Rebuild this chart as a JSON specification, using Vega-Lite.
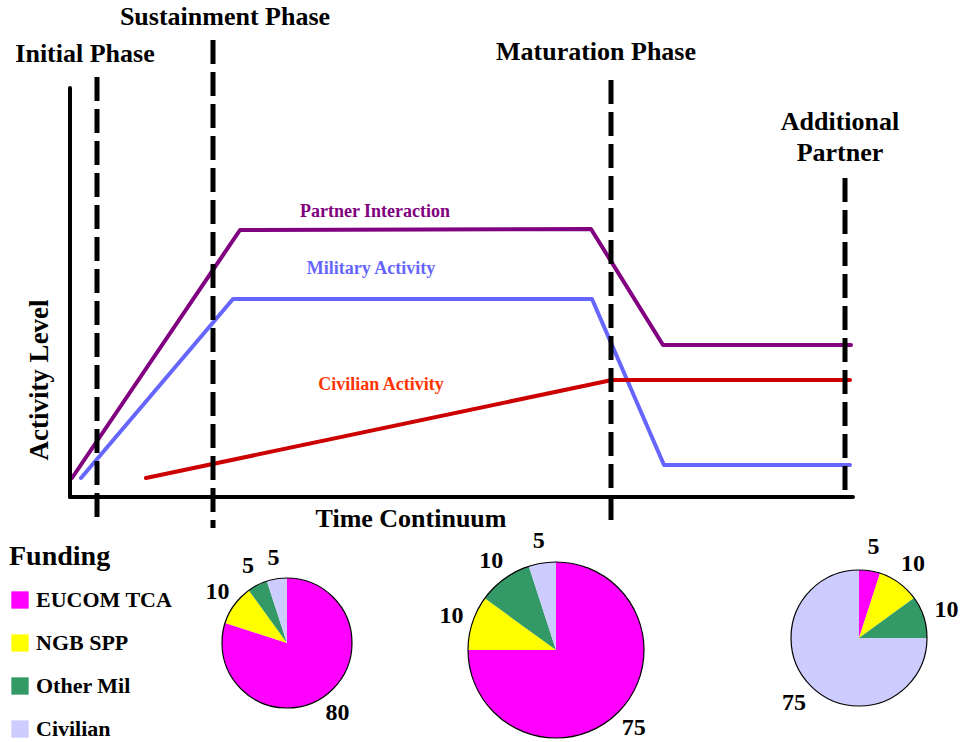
{
  "$schema": "https://vega.github.io/schema/vega-lite/v6.json",
  "width": 964,
  "height": 742,
  "autosize": {"type": "none"},
  "padding": 0,
  "background": "white",
  "config": {
    "view": {"stroke": null},
    "text": {"font": "Liberation Serif", "fontWeight": "bold"}
  },
  "datasets": {
    "activity": [
      {"series": "Partner Interaction", "t": 0.2, "level": 1.9},
      {"series": "Partner Interaction", "t": 17.0, "level": 26.7},
      {"series": "Partner Interaction", "t": 52.1, "level": 26.8},
      {"series": "Partner Interaction", "t": 59.3, "level": 15.2},
      {"series": "Partner Interaction", "t": 78.1, "level": 15.2},
      {"series": "Military Activity", "t": 1.1, "level": 1.9},
      {"series": "Military Activity", "t": 16.3, "level": 19.8},
      {"series": "Military Activity", "t": 52.2, "level": 19.8},
      {"series": "Military Activity", "t": 59.4, "level": 3.2},
      {"series": "Military Activity", "t": 78.0, "level": 3.2},
      {"series": "Civilian Activity", "t": 7.6, "level": 1.9},
      {"series": "Civilian Activity", "t": 54.2, "level": 11.7},
      {"series": "Civilian Activity", "t": 78.0, "level": 11.7}
    ],
    "axes": [
      {"axis": "Activity Level", "t": 0, "t2": 0, "level": 0, "level2": 40.9},
      {"axis": "Time Continuum", "t": 0, "t2": 78.3, "level": 0, "level2": 0}
    ],
    "phases": [
      {"phase": "Initial Phase", "t": 2.7, "top": 42.0, "bottom": -2.8},
      {"phase": "Sustainment Phase", "t": 14.3, "top": 45.7, "bottom": -3.1},
      {"phase": "Maturation Phase", "t": 54.1, "top": 41.7, "bottom": -3.1},
      {"phase": "Additional Partner", "t": 77.5, "top": 31.9, "bottom": 0}
    ],
    "lineLabels": [
      {"series": "Partner Interaction", "t": 30.5, "level": 28.5},
      {"series": "Military Activity", "t": 30.1, "level": 22.8},
      {"series": "Civilian Activity", "t": 31.1, "level": 11.2}
    ],
    "titles": [
      {"text": "Initial Phase", "t": 1.5, "level": 44.3},
      {"text": "Sustainment Phase", "t": 15.5, "level": 48.0},
      {"text": "Maturation Phase", "t": 52.6, "level": 44.5},
      {"text": "Additional", "t": 77.0, "level": 37.5},
      {"text": "Partner", "t": 77.0, "level": 34.4},
      {"text": "Time Continuum", "t": 34.1, "level": -2.2}
    ],
    "yTitle": [
      {"text": "Activity Level", "t": -3.0, "level": 11.7}
    ],
    "funding": [
      {"pie": "Initial", "cat": "EUCOM TCA", "k": 1, "value": 80},
      {"pie": "Initial", "cat": "NGB SPP", "k": 2, "value": 10},
      {"pie": "Initial", "cat": "Other Mil", "k": 3, "value": 5},
      {"pie": "Initial", "cat": "Civilian", "k": 4, "value": 5},
      {"pie": "Sustainment", "cat": "EUCOM TCA", "k": 1, "value": 75},
      {"pie": "Sustainment", "cat": "NGB SPP", "k": 2, "value": 10},
      {"pie": "Sustainment", "cat": "Other Mil", "k": 3, "value": 10},
      {"pie": "Sustainment", "cat": "Civilian", "k": 4, "value": 5},
      {"pie": "Additional", "cat": "EUCOM TCA", "k": 1, "value": 5},
      {"pie": "Additional", "cat": "NGB SPP", "k": 2, "value": 10},
      {"pie": "Additional", "cat": "Other Mil", "k": 3, "value": 10},
      {"pie": "Additional", "cat": "Civilian", "k": 4, "value": 75}
    ]
  },
  "encoding": {
    "x": {"type": "quantitative", "scale": {"domain": [-7, 89.4], "nice": false, "zero": false}, "axis": null},
    "y": {"type": "quantitative", "scale": {"domain": [-24.5, 49.7], "nice": false, "zero": false}, "axis": null}
  },
  "layer": [
    {
      "data": {"name": "activity"},
      "mark": {"type": "line", "strokeWidth": 4, "strokeCap": "round", "strokeJoin": "round"},
      "encoding": {
        "x": {"field": "t", "type": "quantitative"},
        "y": {"field": "level", "type": "quantitative"},
        "stroke": {"field": "series", "type": "nominal", "scale": {"domain": ["Partner Interaction", "Military Activity", "Civilian Activity"], "range": ["#800080", "#6666FF", "#CC0000"]}, "legend": null}
      }
    },
    {
      "data": {"name": "axes"},
      "mark": {"type": "rule", "strokeWidth": 4, "color": "black", "strokeCap": "round"},
      "encoding": {
        "x": {"field": "t", "type": "quantitative"},
        "x2": {"field": "t2"},
        "y": {"field": "level", "type": "quantitative"},
        "y2": {"field": "level2"}
      }
    },
    {
      "data": {"name": "phases"},
      "mark": {"type": "rule", "strokeWidth": 5, "color": "black", "strokeDash": [24, 8]},
      "encoding": {
        "x": {"field": "t", "type": "quantitative"},
        "y": {"field": "top", "type": "quantitative"},
        "y2": {"field": "bottom"}
      }
    },
    {
      "data": {"name": "lineLabels"},
      "mark": {"type": "text", "fontSize": 18, "align": "center", "baseline": "middle"},
      "encoding": {
        "x": {"field": "t", "type": "quantitative"},
        "y": {"field": "level", "type": "quantitative"},
        "text": {"field": "series"},
        "fill": {"field": "series", "type": "nominal", "scale": {"domain": ["Partner Interaction", "Military Activity", "Civilian Activity"], "range": ["#800080", "#6666FF", "#FF3300"]}, "legend": null}
      }
    },
    {
      "data": {"name": "titles"},
      "mark": {"type": "text", "fontSize": 26, "align": "center", "baseline": "middle", "color": "black"},
      "encoding": {
        "x": {"field": "t", "type": "quantitative"},
        "y": {"field": "level", "type": "quantitative"},
        "text": {"field": "text"}
      }
    },
    {
      "data": {"name": "yTitle"},
      "mark": {"type": "text", "fontSize": 27, "align": "center", "baseline": "middle", "color": "black", "angle": 270},
      "encoding": {
        "x": {"field": "t", "type": "quantitative"},
        "y": {"field": "level", "type": "quantitative"},
        "text": {"field": "text"}
      }
    },
    {
      "data": {"name": "funding"},
      "transform": [{"filter": "datum.pie == 'Initial'"}],
      "encoding": {
        "x": {"datum": 21.7, "type": "quantitative"},
        "y": {"datum": -14.6, "type": "quantitative"}
      },
      "layer": [
        {
          "mark": {"type": "arc", "outerRadius": 65},
          "encoding": {
            "theta": {"field": "value", "type": "quantitative", "stack": true},
            "order": {"field": "k", "type": "quantitative"},
            "color": {"field": "cat", "type": "nominal", "title": "Funding",
              "scale": {"domain": ["EUCOM TCA", "NGB SPP", "Other Mil", "Civilian"], "range": ["#FF00FF", "#FFFF00", "#339966", "#CCCCFF"]},
              "legend": {"orient": "none", "legendX": 9, "legendY": 543, "titleFont": "Liberation Serif", "titleFontSize": 28, "titleFontWeight": "bold", "titleColor": "black", "titlePadding": 18, "labelFont": "Liberation Serif", "labelFontSize": 22, "labelFontWeight": "bold", "labelColor": "black", "symbolType": "square", "symbolSize": 300, "symbolStrokeWidth": 0, "rowPadding": 21, "labelOffset": 5, "symbolOpacity": 1}}
          }
        },
        {
          "transform": [{"filter": "datum.k == 1"}],
          "mark": {"type": "arc", "outerRadius": 65, "theta": 0, "theta2": 6.2832, "filled": false, "stroke": "black", "strokeWidth": 1.2}
        },
        {
          "mark": {"type": "text", "radius": 86, "fontSize": 24, "color": "black"},
          "encoding": {
            "theta": {"field": "value", "type": "quantitative", "stack": true},
            "order": {"field": "k", "type": "quantitative"},
            "detail": {"field": "cat"},
            "text": {"field": "value"}
          }
        }
      ]
    },
    {
      "data": {"name": "funding"},
      "transform": [{"filter": "datum.pie == 'Sustainment'"}],
      "encoding": {
        "x": {"datum": 48.6, "type": "quantitative"},
        "y": {"datum": -15.3, "type": "quantitative"}
      },
      "layer": [
        {
          "mark": {"type": "arc", "outerRadius": 88},
          "encoding": {
            "theta": {"field": "value", "type": "quantitative", "stack": true},
            "order": {"field": "k", "type": "quantitative"},
            "color": {"field": "cat", "type": "nominal"}
          }
        },
        {
          "transform": [{"filter": "datum.k == 1"}],
          "mark": {"type": "arc", "outerRadius": 88, "theta": 0, "theta2": 6.2832, "filled": false, "stroke": "black", "strokeWidth": 1.2}
        },
        {
          "mark": {"type": "text", "radius": 110, "fontSize": 24, "color": "black"},
          "encoding": {
            "theta": {"field": "value", "type": "quantitative", "stack": true},
            "order": {"field": "k", "type": "quantitative"},
            "detail": {"field": "cat"},
            "text": {"field": "value"}
          }
        }
      ]
    },
    {
      "data": {"name": "funding"},
      "transform": [{"filter": "datum.pie == 'Additional'"}],
      "encoding": {
        "x": {"datum": 78.9, "type": "quantitative"},
        "y": {"datum": -14.1, "type": "quantitative"}
      },
      "layer": [
        {
          "mark": {"type": "arc", "outerRadius": 68},
          "encoding": {
            "theta": {"field": "value", "type": "quantitative", "stack": true},
            "order": {"field": "k", "type": "quantitative"},
            "color": {"field": "cat", "type": "nominal"}
          }
        },
        {
          "transform": [{"filter": "datum.k == 1"}],
          "mark": {"type": "arc", "outerRadius": 68, "theta": 0, "theta2": 6.2832, "filled": false, "stroke": "black", "strokeWidth": 1.2}
        },
        {
          "mark": {"type": "text", "radius": 92, "fontSize": 24, "color": "black"},
          "encoding": {
            "theta": {"field": "value", "type": "quantitative", "stack": true},
            "order": {"field": "k", "type": "quantitative"},
            "detail": {"field": "cat"},
            "text": {"field": "value"}
          }
        }
      ]
    }
  ]
}
